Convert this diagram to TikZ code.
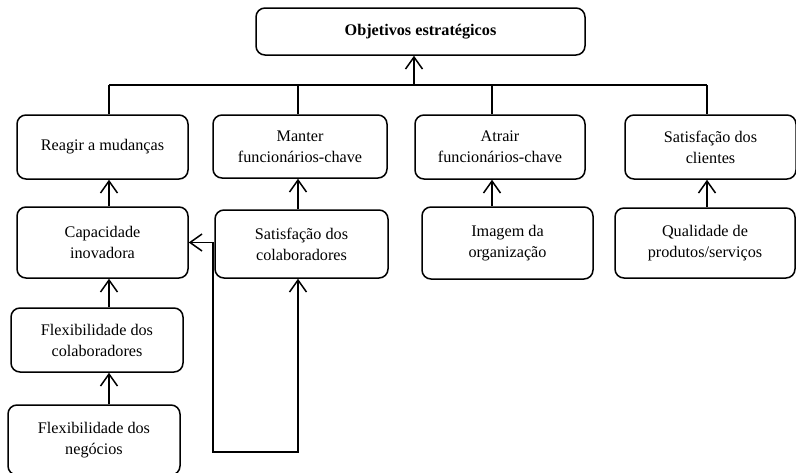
\documentclass[tikz,border=0pt]{standalone}
\usepackage{fontspec}
\setmainfont{Liberation Serif}
\usetikzlibrary{arrows.meta}
\begin{document}
\begin{tikzpicture}[x=1pt,y=-1pt,
  box/.style={draw, line width=1.5pt, rounded corners=9pt, inner sep=0pt, align=center,
    font=\fontsize{16.2}{21}\selectfont},
  conn/.style={line width=1.5pt},
  tip/.tip={Straight Barb[length=12pt,width=17pt,line width=1.5pt]}]
\useasboundingbox (0,0) rectangle (796,472);
\node[box, minimum width=329pt, minimum height=47pt, font=\fontsize{16.2}{21}\selectfont\bfseries] (top) at (420.5,31.5) {Objetivos estratégicos};
\node[box, minimum width=171pt, minimum height=64pt] (reagir) at (102.5,147) {Reagir a mudanças};
\node[box, minimum width=174pt, minimum height=63pt] (manter) at (300,146.5) {Manter\\funcionários-chave};
\node[box, minimum width=170pt, minimum height=64pt] (atrair) at (500,147) {Atrair\\funcionários-chave};
\node[box, minimum width=171pt, minimum height=64pt] (satcli) at (710.5,147) {Satisfação dos\\clientes};
\node[box, minimum width=171pt, minimum height=71pt] (capac) at (102.5,242.5) {Capacidade\\inovadora};
\node[box, minimum width=173pt, minimum height=68pt] (satcol) at (301.5,244) {Satisfação dos\\colaboradores};
\node[box, minimum width=171pt, minimum height=72pt] (imagem) at (507.5,243) {Imagem da\\organização};
\node[box, minimum width=180pt, minimum height=70pt] (qualid) at (705,243) {Qualidade de\\produtos/serviços};
\node[box, minimum width=172pt, minimum height=64pt] (flexcol) at (97,340) {Flexibilidade dos\\colaboradores};
\node[box, minimum width=172pt, minimum height=70pt] (flexneg) at (94,440) {Flexibilidade dos\\negócios};
% column coordinates
\coordinate (c1) at (109,85);
\coordinate (c2) at (298,85);
\coordinate (c3) at (492,85);
\coordinate (c4) at (707,85);
\coordinate (ta) at (414,85);
\coordinate (lx) at (213,452);
\coordinate (ly) at (298,452);
% bus
\draw[conn] (c1) -- (c4);
\draw[conn] (c1) -- (reagir.north -| c1);
\draw[conn] (c2) -- (manter.north -| c2);
\draw[conn] (c3) -- (atrair.north -| c3);
\draw[conn] (c4) -- (satcli.north -| c4);
\draw[conn,-tip] (ta) -- (top.south -| ta);
% vertical arrows
\draw[conn,-tip] (capac.north -| c1) -- (reagir.south -| c1);
\draw[conn,-tip] (flexcol.north -| c1) -- (capac.south -| c1);
\draw[conn,-tip] (flexneg.north -| c1) -- (flexcol.south -| c1);
\draw[conn,-tip] (satcol.north -| c2) -- (manter.south -| c2);
\draw[conn,-tip] (imagem.north -| c3) -- (atrair.south -| c3);
\draw[conn,-tip] (qualid.north -| c4) -- (satcli.south -| c4);
% loop
\draw[conn,tip-tip] (capac.east) -- (capac.east -| lx) -- (lx) -- (ly) -- (satcol.south -| ly);
\end{tikzpicture}
\end{document}
